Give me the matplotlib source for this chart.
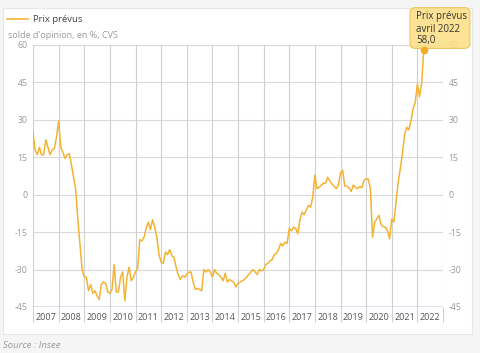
import matplotlib
matplotlib.use("Agg")
import matplotlib.pyplot as plt
from matplotlib.patches import FancyBboxPatch, Rectangle
import numpy as np

plt.rcParams['font.family'] = ['Open Sans', 'DejaVu Sans']

start_year = 2007
prix_prevus = [
    # 2007
    25, 18, 16, 19, 16, 16, 22, 19, 16, 18, 18.5, 23,
    # 2008
    29.5, 19, 17, 14.5, 16, 16.5, 12, 7, 2, -10, -20, -30,
    # 2009
    -33, -33, -38.5, -36, -39.5, -38.5, -40.5, -42, -36, -35, -35.5, -39,
    # 2010
    -39.5, -38, -28, -39, -39, -33, -31, -42.5, -33, -29, -34.5, -33,
    # 2011
    -31, -29.5, -18, -18.5, -17, -13.5, -11, -14, -10, -13, -17, -24,
    # 2012
    -27, -27.5, -23, -24, -22, -24.5, -25, -29, -32, -34, -32.5, -33,
    # 2013
    -32, -31, -31, -35, -38, -37.5, -38, -38.5, -30, -31, -30, -31,
    # 2014
    -33, -30, -31.5, -32, -33, -34.5, -31.5, -35, -34, -34.5, -35, -37,
    # 2015
    -35.5, -35, -34.5, -34, -33, -32, -31, -30, -31, -32, -30, -30.5,
    # 2016
    -30, -28, -27.5, -26.5, -26, -24, -23.5, -22, -19.5, -20.5, -19, -19.5,
    # 2017
    -13.5, -14.5, -13, -13.5, -15.7, -10, -7, -8, -6, -4.3, -5, -1,
    # 2018
    7.8, 2.4, 3, 3.8, 4.7, 4.5, 7, 5.5, 4.3, 3.4, 2.4, 3.8,
    # 2019
    8.7, 9.8, 3.4, 3.4, 2.8, 1.3, 3.9, 3, 2.4, 3.3, 2.8, 5.8,
    # 2020
    6.4, 6.2, 2.4, -17, -11, -9.7, -8.3, -12, -12.8, -13, -14.4, -17.7,
    # 2021
    -9.7, -11, -3, 5, 10.5, 16.5, 24, 27, 26, 29.5, 34.5, 37,
    # 2022
    44.4, 39.3, 44.7, 58.0,
]
years = list(range(2007, 2023))
yticks = [-45, -30, -15, 0, 15, 30, 45, 60]

t = start_year + np.arange(len(prix_prevus)) / 12.0

W, H = 480, 353
fig = plt.figure(figsize=(W / 100, H / 100), dpi=100)
fig.patch.set_facecolor('#f5f5f5')

# card
card = Rectangle((3 / W, 1 - 334 / H), 469 / W, (334 - 8) / H, transform=fig.transFigure,
                 facecolor='white', edgecolor='#e6e6e6', linewidth=0.8, zorder=-10)
fig.patches.append(card)

left, right, top, bottom = 33, 443, 45, 307
ax = fig.add_axes([left / W, 1 - bottom / H, (right - left) / W, (bottom - top) / H])
ax.set_facecolor('none')
ax.set_zorder(1)

line_color = '#f4b333'
ax.plot(t, prix_prevus, color=line_color, linewidth=1.1, zorder=3)

ax.set_xlim(2007, 2023)
ax.set_ylim(-45, 60)

for s in ax.spines.values():
    s.set_visible(False)

# horizontal grid
for y in yticks:
    if y == -45:
        ax.axhline(y, color='#7070b8', linewidth=1.0, zorder=2)
    else:
        ax.axhline(y, color='#d9d9d9', linewidth=0.8, zorder=1)

# vertical year boundaries
ax.set_xticks(list(range(2007, 2024)))
ax.tick_params(axis='x', which='major', length=11, width=0.8, color='#d0d0d0', labelbottom=False)
for x in range(2007, 2024):
    ax.axvline(x, color='#d0d0d0', linewidth=0.8, zorder=1)
ax.set_xticks([y + 0.5 for y in years], minor=True)
ax.set_xticklabels([str(y) for y in years], minor=True)
ax.tick_params(axis='x', which='minor', length=0, labelsize=6.5, labelcolor='#555555', pad=4)

ax.set_yticks(yticks)
ax.set_yticklabels([str(y) for y in yticks])
ax.tick_params(axis='y', length=0, labelsize=6.3, labelcolor='#999999', pad=4,
               left=False, right=False, labelleft=True, labelright=True)

# legend
fig.add_artist(plt.Line2D([7 / W, 28 / W], [1 - 19 / H, 1 - 19 / H], transform=fig.transFigure,
                          color=line_color, linewidth=1.2))
fig.text(33 / W, 1 - 19 / H, 'Prix prévus', fontsize=6.8, color='#444444', va='center', ha='left')
fig.text(8 / W, 1 - 35 / H, "solde d'opinion, en %, CVS", fontsize=6.5, color='#999999',
         va='center', ha='left')
fig.text(3 / W, 1 - 346 / H, 'Source : Insee', fontsize=6.8, color='#999999', style='italic',
         va='center', ha='left')

# tooltip (semi-transparent, like the reference)
tip = FancyBboxPatch((412 / W, 1 - 47 / H), 56 / W, 38 / H, transform=fig.transFigure,
                     boxstyle='round,pad=0.004,rounding_size=0.012',
                     facecolor=(0.99, 0.87, 0.52, 0.88), edgecolor='#eac763', linewidth=0.8,
                     zorder=10)
fig.patches.append(tip)
for i, txt in enumerate(['Prix prévus', 'avril 2022', '58,0']):
    fig.text(416 / W, 1 - (17 + 12 * i) / H, txt, fontsize=7, color='#333333',
             va='center', ha='left', zorder=11)

# end-point marker on top of the tooltip
ax2 = fig.add_axes(ax.get_position(), sharex=ax, sharey=ax)
ax2.set_zorder(20)
ax2.set_facecolor('none')
ax2.axis('off')
ax2.plot([t[-1]], [prix_prevus[-1]], 'o', color='#f0ad22', markersize=4.5, clip_on=False)

fig.savefig('out.png', dpi=100, facecolor=fig.get_facecolor())
